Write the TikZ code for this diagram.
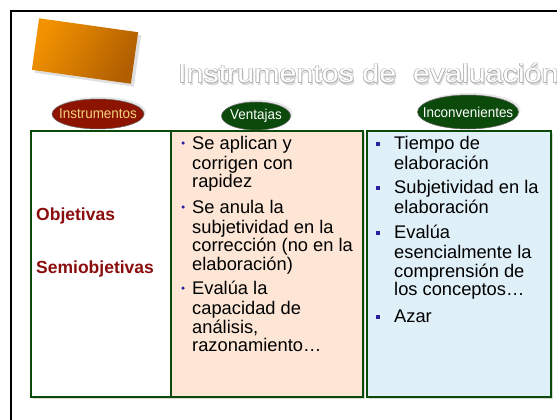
\documentclass[tikz,border=0pt]{standalone}
\usepackage{fontspec}
\setmainfont{Liberation Sans}
\newfontfamily\titlefont[FakeStretch=1.17]{Liberation Sans}
\newfontfamily\headfont[FakeStretch=0.94]{Liberation Sans}
\usetikzlibrary{shapes.geometric,shadows}
\definecolor{darkgreen}{HTML}{0B4A0B}
\definecolor{darkred}{HTML}{8C1400}
\definecolor{labelred}{HTML}{8B0D0D}
\definecolor{peach}{HTML}{FDE6D5}
\definecolor{paleblue}{HTML}{E0F0F8}
\definecolor{bulletblue}{HTML}{2A1F9E}
\definecolor{orangeA}{HTML}{F29200}
\definecolor{orangeB}{HTML}{B05E00}
\definecolor{goldtext}{HTML}{F3D27C}
\begin{document}
\begin{tikzpicture}[x=1pt,y=-1pt,
    cell/.style={draw=darkgreen,line width=2pt,anchor=north west,minimum height=266pt,inner sep=0pt,
      drop shadow={shadow xshift=1.5pt,shadow yshift=-1.5pt,opacity=.3}},
    head/.style={ellipse,draw=black!60,line width=.5pt,inner sep=0pt,
      drop shadow={shadow xshift=2pt,shadow yshift=2pt,opacity=.2}},
    lbl/.style={inner sep=0pt,text=white,font=\headfont\fontsize{14.3}{15}\selectfont},
    item/.style={anchor=north west,align=left,inner sep=0pt,font=\fontsize{18.3}{18.6}\selectfont},
    dot/.style={circle,fill=bulletblue,inner sep=0pt,minimum size=3.5pt},
    sq/.style={rectangle,fill=bulletblue,inner sep=0pt,minimum size=4pt},
    kind/.style={anchor=base west,inner sep=0pt,text=labelred,font=\fontsize{17.5}{18}\selectfont\bfseries},
    ttl/.style={anchor=base west,inner sep=0pt,font=\titlefont\fontsize{26}{27}\selectfont},
    logo/.style={rectangle,minimum width=100pt,minimum height=52pt,rotate=-8,
      left color=orangeA,right color=orangeB,shading angle=60,
      drop shadow={shadow xshift=3pt,shadow yshift=-3pt,opacity=.25}},
  ]
  \useasboundingbox (0,0) rectangle (557,420);
  \clip (0,0) rectangle (557,420);
  \draw[line width=2pt] (11,420) -- (11,11) -- (557,11);
  \node[logo] (logo) at (85,51) {};

  % title with outline
  \node[ttl,text=black!15] (ttlshadow) at (179.5,85.5) {Instrumentos de\ \ evaluación};
  \foreach \dx/\dy [count=\k] in {-.7/0,.7/0,0/-.7,0/.7,-.5/-.5,.5/.5,-.5/.5,.5/-.5}
    \node[ttl,text=black!30] (ttl\k) at (178+\dx,83+\dy) {Instrumentos de\ \ evaluación};
  \node[ttl,text=white] (title) at (178,83) {Instrumentos de\ \ evaluación};

  \node[head,fill=darkred,minimum width=92pt,minimum height=30pt,
    label={[lbl,text=goldtext]center:Instrumentos}] (instr) at (98,114) {};
  \node[head,fill=darkgreen,minimum width=69pt,minimum height=28pt,
    label={[lbl]center:Ventajas}] (vent) at (256,116) {};
  \node[head,fill=darkgreen,minimum width=101pt,minimum height=34pt,
    label={[lbl]center:Inconvenientes}] (incon) at (468,112) {};

  \node[cell,fill=white,minimum width=140pt] (c1) at (30,130) {};
  \node[cell,fill=peach,minimum width=192pt] (c2) at (170,130) {};
  \node[cell,fill=paleblue,minimum width=184pt] (c3) at (366,130) {};

  \node[kind] (obj) at (36,220) {Objetivas};
  \node[kind] (semi) at (36,273) {Semiobjetivas};

  \foreach \yb/\txt [count=\i] in {149/{Se aplican y\\corrigen con\\rapidez},
      213/{Se anula la\\subjetividad en la\\corrección (no en la\\elaboración)},
      294/{Evalúa la\\capacidad de\\análisis,\\razonamiento…}}{
    \node[item] (v\i) at (192,\yb-13) {\strut\txt};
    \node[dot] (vd\i) at (183,\yb-6) {};
  }
  \foreach \yb/\txt [count=\i] in {149/{Tiempo de\\elaboración},
      193/{Subjetividad en la\\elaboración},
      238/{Evalúa\\esencialmente la\\comprensión de\\los conceptos…},
      322/{Azar}}{
    \node[item] (n\i) at (394,\yb-13) {\strut\txt};
    \node[sq] (nd\i) at (378,\yb-5) {};
  }
\end{tikzpicture}
\end{document}
